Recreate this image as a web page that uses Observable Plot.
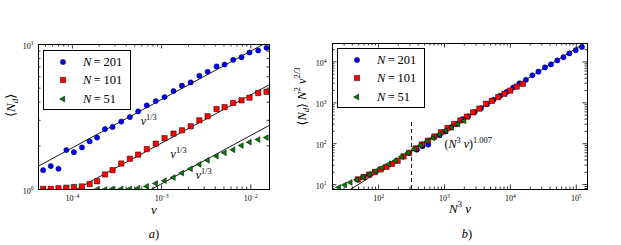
<!DOCTYPE html>
<html><head><meta charset="utf-8">
<script src="https://cdn.jsdelivr.net/npm/d3@7"></script>
<script src="https://cdn.jsdelivr.net/npm/@observablehq/plot@0.6"></script>
<style>
body{margin:0;background:#fff;}
#fig{position:relative;width:621px;height:245px;overflow:hidden;font-family:"Liberation Serif",serif;background:#fff;}
#fig svg{position:absolute;top:0;}
.legend{position:absolute;border:1px solid #000;background:#fff;box-sizing:border-box;}
.legend .row{position:absolute;height:14px;line-height:14px;font-size:12.5px;white-space:nowrap;}
.legend svg{position:absolute;}
</style></head><body><div id="fig"></div>
<script>
// ---- data ----
const v = [4.70e-5, 5.73e-5, 6.98e-5, 8.57e-5, 1.04e-4, 1.28e-4, 1.56e-4, 1.89e-4, 2.32e-4, 2.82e-4,
           3.53e-4, 4.41e-4, 5.46e-4, 6.82e-4, 8.60e-4, 1.08e-3, 1.36e-3, 1.69e-3, 2.12e-3, 2.65e-3,
           3.28e-3, 4.13e-3, 5.08e-3, 6.35e-3, 7.87e-3, 9.67e-3, 1.21e-2, 1.50e-2];
const nd201 = [1.36,1.45,1.39,1.87,1.81,1.95,2.15,2.28,2.61,2.70,2.94,3.16,3.46,3.80,4.07,4.34,4.78,5.20,5.48,6.09,6.48,7.06,7.28,7.84,8.18,8.81,9.09,9.49];
const nd101 = [1.01,1.01,1.02,1.03,1.04,1.05,1.09,1.14,1.27,1.36,1.51,1.63,1.74,1.90,2.07,2.26,2.43,2.56,2.73,3.00,3.20,3.59,3.70,3.95,4.12,4.30,4.63,4.72];
const nd51  = [1.00,1.00,1.01,1.01,1.01,1.02,1.05,1.10,1.15,1.21,1.30,1.39,1.49,1.59,1.70,1.79,1.88,2.01,2.12,2.21,2.28]; // from v[7] on
const nd51Start = 7;
const sizes = [201, 101, 51];
const seriesLabels = ["N=201", "N=101", "N=51"];
const fitCoef = [41.8, 20.9, 10.96];       // <N_d> = c v^(1/3)
const fitExp = 1/3;
const fitLabels = ["v^{1/3}", "v^{1/3}", "v^{1/3}"];
const fitLabelV = [5.83e-4, 1.26e-3, 2.41e-3];
const fitLabelNd = [2.79, 1.66, 1.18];
const collapseCoef = 0.199, collapseExp = 1.007;
const collapseLabel = ["(N^{3} v)^{1.007}"];
const collapseLabelX = [1000], collapseLabelY = [76.7];
const crossoverX = [316], crossoverTop = 370;
const leftXTicks = [1e-4, 1e-3, 1e-2];
const leftYTicks = [1, 10];
const rightXTicks = [1e2, 1e3, 1e4, 1e5];
const rightYTicks = [1e1, 1e2, 1e3, 1e4];

// ---- styling ----
const FONT = "Liberation Serif, DejaVu Serif, serif";
const colors = ["#0000ff", "#ff0000", "#007f00"];
const leftTri = {draw(ctx, size){ const r=Math.sqrt(size/Math.PI), R=r*1.4, h=R*Math.sqrt(3)/2;
  ctx.moveTo(-R,0); ctx.lineTo(R/2,-h); ctx.lineTo(R/2,h); ctx.closePath(); }};
const symbols = [d3.symbolCircle, d3.symbolSquare, leftTri];
const radii = [2.6, 3.0, 2.4];

const rows = [];
sizes.forEach((N, s) => {
  const nd = s === 0 ? nd201 : s === 1 ? nd101 : nd51;
  const off = s === 2 ? nd51Start : 0;
  nd.forEach((d, i) => {
    const vv = v[i + off];
    rows.push({s, N, v: vv, nd: d, X: N**3 * vv, Y: d * N**2 * Math.pow(vv, 2/3)});
  });
});

function minors(lo, hi){
  const out=[];
  for(let d=Math.floor(Math.log10(lo)); d<=Math.ceil(Math.log10(hi)); d++)
    for(let k=2;k<=9;k++){ const t=k*Math.pow(10,d); if(t>lo && t<hi) out.push(t); }
  return out;
}
function frameTicks(dir, values, len, inner){
  const o = {stroke:"#000", strokeOpacity:1, strokeWidth:0.8};
  return dir === "x"
    ? [Plot.gridX(values, {...o, insetTop: inner-len}), Plot.gridX(values, {...o, insetBottom: inner-len})]
    : [Plot.gridY(values, {...o, insetRight: inner-len}), Plot.gridY(values, {...o, insetLeft: inner-len})];
}
const fmt = d => "10^{" + String(Math.round(Math.log10(d))).replace("-", "\u2212") + "}";

function dotsFor(xk, yk){
  return sizes.map((N, s) => Plot.dot(rows.filter(r => r.s === s), {
    x: xk, y: yk, symbol: () => symbols[s], r: radii[s], fill: colors[s],
    stroke: "#000", strokeWidth: 0.5, clip: true}));
}

// ---- left panel ----
const H = 245, mT = 44, mB = 56;
const W1 = 285, mL1 = 38, mR1 = 16;
const xDomL = [4.17e-5, 1.62e-2], yDomL = [1, 10];
const innerH = H - mT - mB, innerW1 = W1 - mL1 - mR1;
const left = Plot.plot({
  width: W1, height: H, marginLeft: mL1, marginRight: mR1, marginTop: mT, marginBottom: mB,
  x: {type: "log", domain: xDomL}, y: {type: "log", domain: yDomL},
  style: {fontFamily: FONT, background: "transparent", overflow: "visible"},
  marks: [
    ...frameTicks("x", leftXTicks, 4.5, innerH),
    ...frameTicks("x", minors(...xDomL), 2.5, innerH),
    ...frameTicks("y", leftYTicks, 4.5, innerW1),
    ...frameTicks("y", minors(...yDomL), 2.5, innerW1),
    ...fitCoef.map(c => Plot.line(xDomL.map(x => ({x, y: c * Math.pow(x, fitExp)})),
        {x: "x", y: "y", stroke: "#000", strokeWidth: 0.9, clip: true})),
    ...dotsFor("v", "nd"),
    Plot.text(fitLabels, {x: fitLabelV, y: fitLabelNd, textAnchor: "start", lineAnchor: "bottom", fontSize: 12}),
    Plot.axisX(leftXTicks, {tickSize: 0, tickPadding: 6, tickFormat: fmt, fontSize: 8, label: null}),
    Plot.axisY(leftYTicks, {tickSize: 0, tickPadding: 5, tickFormat: fmt, fontSize: 8, label: null, dy: 1.5}),
    Plot.text(["v"], {frameAnchor: "bottom", dy: 24, fontSize: 13}),
    Plot.text(["a)"], {frameAnchor: "bottom", dy: 48, fontSize: 12.5}),
    Plot.text(["\u27e8N_{d}\u27e9"], {frameAnchor: "left", rotate: -90, dx: -28, fontSize: 13}),
    Plot.frame({stroke: "#000", strokeWidth: 1})
  ]
});

// ---- right panel ----
const W2 = 336, mL2 = 47, mR2 = 34, X2 = 285;
const xDomR = [20, 1.48e5], yDomR = [7.6, 28200];
const innerW2 = W2 - mL2 - mR2;
const right = Plot.plot({
  width: W2, height: H, marginLeft: mL2, marginRight: mR2, marginTop: mT - 1, marginBottom: mB,
  x: {type: "log", domain: xDomR}, y: {type: "log", domain: yDomR},
  style: {fontFamily: FONT, background: "transparent", overflow: "visible"},
  marks: [
    ...frameTicks("x", rightXTicks, 4.5, innerH + 1),
    ...frameTicks("x", minors(...xDomR), 2.5, innerH + 1),
    ...frameTicks("y", rightYTicks, 4.5, innerW2),
    ...frameTicks("y", minors(...yDomR), 2.5, innerW2),
    Plot.ruleX(crossoverX, {y1: yDomR[0], y2: crossoverTop, stroke: "#000", strokeWidth: 0.9, strokeDasharray: "4,3"}),
    Plot.line(xDomR.map(x => ({x, y: collapseCoef * Math.pow(x, collapseExp)})),
        {x: "x", y: "y", stroke: "#000", strokeWidth: 0.9, clip: true}),
    ...dotsFor("X", "Y"),
    Plot.text(collapseLabel, {x: collapseLabelX, y: collapseLabelY, textAnchor: "start", lineAnchor: "bottom", fontSize: 12}),
    Plot.axisX(rightXTicks, {tickSize: 0, tickPadding: 6, tickFormat: fmt, fontSize: 8, label: null}),
    Plot.axisY(rightYTicks, {tickSize: 0, tickPadding: 6, tickFormat: fmt, fontSize: 8, label: null, dy: 1.5}),
    Plot.text(["N^{3} v"], {frameAnchor: "bottom", dy: 23, fontSize: 13}),
    Plot.text(["b)"], {frameAnchor: "bottom", dy: 48, dx: 7, fontSize: 12.5}),
    Plot.text(["\u27e8N_{d}\u27e9 N^{2} v^{2/3}"], {frameAnchor: "left", rotate: -90, dx: -31, dy: 9, fontSize: 12.5}),
    Plot.frame({stroke: "#000", strokeWidth: 1})
  ]
});

const fig = document.getElementById("fig");
left.style.left = "0px";
right.style.left = X2 + "px";
fig.appendChild(left);
fig.appendChild(right);

// ---- TeX-like rich text (super/subscripts, italic letters) ----
function rich(el){
  const src = el.textContent;
  if (!/[\^_]\{|[A-Za-z]/.test(src)) return;
  const fs = parseFloat(getComputedStyle(el).fontSize);
  const segs = []; let buf = "";
  for (let i = 0; i < src.length;) {
    const c = src[i];
    if ((c === "^" || c === "_") && src[i+1] === "{") {
      if (buf) { segs.push([buf, 0]); buf = ""; }
      const j = src.indexOf("}", i);
      segs.push([src.slice(i+2, j), c === "^" ? 1 : -1]); i = j + 1;
    } else { buf += c; i++; }
  }
  if (buf) segs.push([buf, 0]);
  while (el.firstChild) el.removeChild(el.firstChild);
  el.style.whiteSpace = "pre";
  let cur = 0;
  for (const [t, l] of segs) {
    const target = l === 1 ? -0.42*fs : l === -1 ? 0.25*fs : 0;
    const size = l ? 0.7*fs : fs;
    for (const run of t.split(/([A-Za-z]+)/)) {
      if (!run) continue;
      const ts = document.createElementNS("http://www.w3.org/2000/svg", "tspan");
      ts.textContent = run;
      ts.setAttribute("font-size", size);
      ts.setAttribute("font-style", /^[A-Za-z]+$/.test(run) ? "italic" : "normal");
      if (target !== cur) { ts.setAttribute("dy", target - cur); cur = target; }
      el.appendChild(ts);
    }
  }
}
[left, right].forEach(svg => svg.querySelectorAll("text").forEach(rich));

// ---- legends ----
function legend(x, y){
  const box = document.createElement("div");
  box.className = "legend";
  Object.assign(box.style, {left: x + "px", top: y + "px", width: "88px", height: "60px"});
  seriesLabels.forEach((lab, s) => {
    const cy = 10.5 + s * 18.5;
    const svg = document.createElementNS("http://www.w3.org/2000/svg", "svg");
    svg.setAttribute("width", 12); svg.setAttribute("height", 12);
    svg.style.left = (18.5 - 6) + "px"; svg.style.top = (cy - 6) + "px";
    const p = document.createElementNS("http://www.w3.org/2000/svg", "path");
    p.setAttribute("d", d3.symbol(symbols[s], Math.PI * radii[s] ** 2)());
    p.setAttribute("transform", "translate(6,6)");
    p.setAttribute("fill", colors[s]); p.setAttribute("stroke", "#000"); p.setAttribute("stroke-width", 0.5);
    svg.appendChild(p); box.appendChild(svg);
    const row = document.createElement("div");
    row.className = "row";
    row.style.left = "39px"; row.style.top = (cy - 7) + "px";
    const [a, b] = lab.split("=");
    row.innerHTML = `<i>${a}</i><span style="margin:0 2.5px">=</span>${b}`;
    box.appendChild(row);
  });
  fig.appendChild(box);
}
legend(43, 50);
legend(337, 48);
</script></body></html>
